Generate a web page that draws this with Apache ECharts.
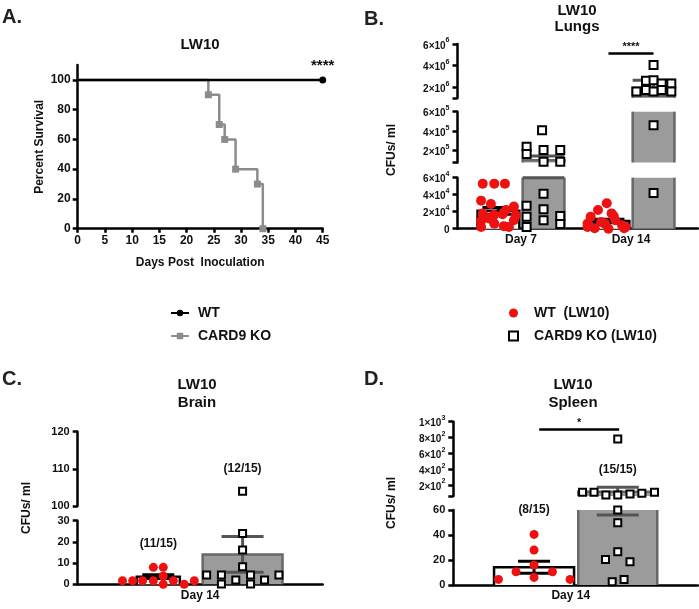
<!DOCTYPE html>
<html>
<head>
<meta charset="utf-8">
<title>LW10</title>
<script src="https://cdn.jsdelivr.net/npm/echarts@6/dist/echarts.min.js"></script>
<style>
  html, body { margin: 0; padding: 0; background: #fff; }
  #chart { width: 699px; height: 609px; }
</style>
</head>
<body>
<div id="chart"></div>
<script>
// ---- A: survival ----
var survDayKO = [0, 24, 26, 27, 29, 33, 34];
var survKO = [100, 90, 70, 60, 40, 30, 0];
var survDayWT = [0, 45];
var survWT = [100, 100];
var pctTicks = [0, 20, 40, 60, 80, 100];

// ---- B: lungs ----
var lungDays = ['Day 7', 'Day 14'];
var lungWtMean = [2.1e4, 0.9e4];
var lungWtSem = [0.4e4, 0.2e4];
var lungKoMean = [1.03e5, 1.95e6];
var lungKoSem = [0.43e5, 0.7e6];
var lungWt7 = [5.3e4, 5.3e4, 5.3e4, 3.3e4, 2.9e4, 2.6e4, 1.8e4, 1.6e4, 1.7e4, 1.6e4, 0.9e4, 0.6e4, 1.0e4, 0.2e4, 0.3e4, 0.2e4, 1.2e4, 2.2e4];
var lungKo7 = [4.1e5, 2.4e5, 1.66e5, 2.07e5, 2.07e5, 0.87e5, 0.87e5, 4.1e4, 2.7e4, 2.3e4, 1.4e4, 1.0e4, 1.5e4, 0.2e4, 0.55e4];
var lungWt14 = [3.0e4, 2.2e4, 1.8e4, 1.4e4, 1.0e4, 0.6e4, 0.8e4, 0.4e4, 0.05e4, 0, 0.05e4, 1.5e4, 0.2e4, 0.2e4, 0.6e4];
var lungKo14 = [4.06e6, 2.6e6, 2.65e6, 2.35e6, 2.35e6, 1.6e6, 1.75e6, 1.6e6, 1.75e6, 1.6e6, 4.6e5, 4.2e4];

// ---- C: brain ----
var brainDay = ['Day 14'];
var brainWtMean = [3.6];
var brainWtSem = [0.9];
var brainKoMean = [14.1];
var brainKoSem = [8.4];
var brainWt = [1.7, 1.7, 1.7, 1.7, 8.0, 8.0, 3.9, 0, 1.7, 0, 1.7];
var brainKo = [4.4, 4.4, 0.1, 2.0, 8.3, 4.4, 0.1, 2.0, 4.4, 16.2, 24.0, 104];
var brainCounts = ['(11/15)', '(12/15)'];

// ---- D: spleen ----
var spleenDay = ['Day 14'];
var spleenWtMean = [14.2];
var spleenWtSem = [4.8];
var spleenKoMean = [113];
var spleenKoSem = [57];
var spleenWt = [40.5, 28, 16, 10.6, 10.6, 6.1, 4.5, 4.5];
var spleenKo = [107, 107, 73, 73, 85, 94, 107, 60, 49.8, 26.6, 20.5, 18.6, 2.6, 4.5, 781];
var spleenCounts = ['(8/15)', '(15/15)'];

// jitter of the dots inside each group (fraction of half bar width)
var jitLungWt7 = [-0.75, -0.2, 0.31, -0.83, -0.36, 0.74, -0.75, -0.21, 0.2, 0.83, -0.83, -0.2, 0.74, -0.83, 0.26, 0.5, -0.45, 0.36];
var jitLungKo7 = [-0.07, -0.81, -0.81, 0, 0.8, 0, 0.8, 0, -0.81, 0, -0.81, 0, 0.8, -0.81, 0.8];
var jitLungWt14 = [-0.08, -0.5, 0.15, -0.85, 0.33, -1.0, -0.35, 0.65, -0.66, 0, 0.75, 0.25, 0.83, -1.0, -0.17];
var jitLungKo14 = [0, -0.36, 0, 0.39, 0.85, -0.82, -0.36, 0, 0.39, 0.85, 0, 0];
var jitBrainWt = [-1.66, -1.19, -0.73, -0.23, -0.23, 0.23, 0.23, 0.23, 0.7, 1.2, 1.67];
var jitBrainKo = [-0.9, -0.53, -0.53, -0.17, 0, 0.2, 0.2, 0.55, 0.91, 0, 0, 0];
var jitSpleenWt = [0, 0, 0, -0.45, 0.46, 0, -0.89, 0.9];
var jitSpleenKo = [-0.89, -0.6, -0.3, 0, 0.31, 0.61, 0.93, 0, 0, 0, -0.31, 0.31, -0.14, 0.16, 0];

var FONT = '"Liberation Sans", Arial, sans-serif';
var RED = '#ee1111';
var GREY = '#9b9b9b';
var DGREY = '#686868';
var LINEGREY = '#8c8c8c';
var WT_NAME = 'WT  (LW10)';
var KO_NAME = 'CARD9 KO (LW10)';

function sci(v) {
    if (v === 0) return '{b|0}';
    var e = Math.floor(Math.log10(v) + 1e-9);
    var m = Math.round(v / Math.pow(10, e));
    return '{b|' + m + '×10}{s|' + e + '}';
}
function plain(v) { return '{p|' + v + '}'; }
var labelRich = {
    b: { fontSize: 10, fontWeight: 'bold', fontFamily: FONT, color: '#111', lineHeight: 14, verticalAlign: 'bottom' },
    s: { fontSize: 7, fontWeight: 'bold', fontFamily: FONT, color: '#111', lineHeight: 14, verticalAlign: 'top', padding: [0, 0, 6, 0] },
    p: { fontSize: 11, fontWeight: 'bold', fontFamily: FONT, color: '#111' }
};

var grids = [], xAxes = [], yAxes = [], series = [];

function barRenderer(lo, hi) {
    return function (params, api) {
        var x = api.value(0), mean = api.value(1), sem = api.value(2), half = api.value(3), ko = api.value(4) === 1;
        var edge = ko ? DGREY : '#000';
        var kids = [];
        var l = api.coord([x - half, lo]), r = api.coord([x + half, lo]);
        if (mean > lo) {
            var t = api.coord([x, Math.min(mean, hi)])[1];
            kids.push({ type: 'rect', shape: { x: l[0], y: t, width: r[0] - l[0], height: l[1] - t }, style: { fill: ko ? GREY : '#fff' } });
            if (mean <= hi) {
                kids.push({ type: 'polyline', shape: { points: [[l[0], l[1]], [l[0], t], [r[0], t], [r[0], l[1]]] }, style: { stroke: edge, lineWidth: 2.5, fill: null } });
            } else {
                kids.push({ type: 'line', shape: { x1: l[0], y1: l[1], x2: l[0], y2: t }, style: { stroke: edge, lineWidth: 2.5 } });
                kids.push({ type: 'line', shape: { x1: r[0], y1: l[1], x2: r[0], y2: t }, style: { stroke: edge, lineWidth: 2.5 } });
            }
        }
        // error bar
        var cx = api.coord([x, lo])[0];
        var capHalf = Math.min((r[0] - l[0]) / 2, ko ? 21 : 16);
        var errColor = ko ? '#555' : '#000';
        var lowV = mean - sem, highV = mean + sem;
        var y0 = Math.max(lowV, lo), y1 = Math.min(highV, hi);
        if (y1 > y0) {
            kids.push({ type: 'line', shape: { x1: cx, y1: api.coord([x, y0])[1], x2: cx, y2: api.coord([x, y1])[1] }, style: { stroke: errColor, lineWidth: 3 } });
        }
        [lowV, highV].forEach(function (v) {
            if (v >= lo && v <= hi) {
                var yy = api.coord([x, v])[1];
                kids.push({ type: 'line', shape: { x1: cx - capHalf, y1: yy, x2: cx + capHalf, y2: yy }, style: { stroke: errColor, lineWidth: 3 } });
            }
        });
        return { type: 'group', children: kids };
    };
}

function addPanel(p) {
    p.segs.forEach(function (s, si) {
        var gi = grids.length;
        var last = si === p.segs.length - 1;
        grids.push({ left: p.left, width: p.width, top: s.top, height: s.height });
        xAxes.push({
            type: 'value', gridIndex: gi, min: p.xMin, max: p.xMax, show: last,
            axisLine: { show: true, onZero: false, lineStyle: { color: '#000', width: 2.5 } },
            axisTick: { show: false }, splitLine: { show: false },
            axisLabel: {
                customValues: p.cats.map(function (c, i) { return i + 1; }),
                formatter: function (v) { return p.cats[Math.round(v) - 1] || ''; },
                fontSize: 12, fontWeight: 'bold', fontFamily: FONT, color: '#111', margin: 5
            }
        });
        yAxes.push({
            type: 'value', gridIndex: gi, min: s.min, max: s.max,
            axisLine: { show: true, lineStyle: { color: '#000', width: 2.5 } },
            axisTick: { show: true, customValues: s.ticks, length: 5, lineStyle: { color: '#000', width: 2.5 } },
            axisLabel: { customValues: s.labels, formatter: s.sci ? sci : plain, rich: labelRich, margin: 8 },
            splitLine: { show: false }
        });
        var inSeg = function (v) { return v <= s.max && (last ? v >= s.min : v > s.min); };
        var barData = p.groups.map(function (g) {
            return [g.x, g.mean, g.sem, g.half, g.ko ? 1 : 0];
        });
        series.push({
            type: 'custom', name: 'bars' + gi, xAxisIndex: gi, yAxisIndex: gi, silent: true, z: 2,
            renderItem: barRenderer(s.min, s.max), data: barData
        });
        [false, true].forEach(function (ko) {
            var pts = [];
            p.groups.forEach(function (g) {
                if (g.ko !== ko) return;
                g.pts.forEach(function (v, i) {
                    if (inSeg(v)) pts.push([g.x + g.jit[i] * g.half, v]);
                });
            });
            var ser = {
                type: 'scatter', name: ko ? KO_NAME : WT_NAME, xAxisIndex: gi, yAxisIndex: gi, z: 5, clip: false,
                data: pts, symbol: ko ? 'rect' : 'circle', symbolSize: ko ? p.sqSize : p.dotSize,
                itemStyle: ko ? { color: '#fff', borderColor: '#000', borderWidth: 2, opacity: 1 } : { color: RED, opacity: 1 },
                emphasis: { disabled: true }
            };
            var marks = (p.marks || []).filter(function (m) { return m.seg === si && m.ko === ko; });
            if (marks.length) {
                ser.markPoint = {
                    symbol: 'circle', symbolSize: 0, silent: true,
                    data: marks.map(function (m) {
                        return { coord: [m.x, m.v], label: { show: true, position: 'inside', formatter: m.text, fontSize: 12, fontWeight: 'bold', fontFamily: FONT, color: '#111' } };
                    })
                };
            }
            var sigs = (p.sigs || []).filter(function (m) { return m.seg === si && m.ko === ko; });
            if (sigs.length) {
                ser.markLine = {
                    symbol: 'none', silent: true, animation: false,
                    lineStyle: { color: '#000', width: 2.5, type: 'solid' },
                    label: { show: true, position: 'insideMiddleTop', distance: 1, fontSize: 11, fontWeight: 'bold', fontFamily: FONT, color: '#111' },
                    data: sigs.map(function (m) {
                        return [{ coord: [m.x1, m.v], label: { formatter: m.text } }, { coord: [m.x2, m.v] }];
                    })
                };
            }
            series.push(ser);
        });
    });
}

// ---- panel A (grid 0) ----
grids.push({ left: 77.7, width: 245, top: 65, height: 163.7 });
xAxes.push({
    type: 'value', gridIndex: 0, min: 0, max: 45, interval: 5,
    name: 'Days Post  Inoculation', nameLocation: 'middle', nameGap: 28,
    nameTextStyle: { fontSize: 12, fontWeight: 'bold', fontFamily: FONT, color: '#111' },
    axisLine: { onZero: false, lineStyle: { color: '#000', width: 2.5 } },
    axisTick: { length: 4, lineStyle: { color: '#000', width: 2.5 } },
    axisLabel: { fontSize: 12, fontWeight: 'bold', fontFamily: FONT, color: '#111', margin: 6 },
    splitLine: { show: false }
});
yAxes.push({
    type: 'value', gridIndex: 0, min: 0, max: 110,
    name: 'Percent Survival', nameLocation: 'middle', nameGap: 32,
    nameTextStyle: { fontSize: 12, fontWeight: 'bold', fontFamily: FONT, color: '#111' },
    axisLine: { show: true, lineStyle: { color: '#000', width: 2.5 } },
    axisTick: { show: true, customValues: pctTicks, length: 5, lineStyle: { color: '#000', width: 2.5 } },
    axisLabel: { customValues: pctTicks, fontSize: 12, fontWeight: 'bold', fontFamily: FONT, color: '#111', margin: 7 },
    splitLine: { show: false }
});
series.push({
    type: 'line', name: 'CARD9 KO', xAxisIndex: 0, yAxisIndex: 0, step: 'end', z: 3,
    symbol: 'rect', symbolSize: 7, lineStyle: { color: LINEGREY, width: 2.5 }, itemStyle: { color: LINEGREY },
    data: survDayKO.map(function (d, i) { return i === 0 ? { value: [d, survKO[i]], symbol: 'none' } : [d, survKO[i]]; })
});
series.push({
    type: 'line', name: 'WT', xAxisIndex: 0, yAxisIndex: 0, z: 4,
    symbol: 'circle', symbolSize: 7, lineStyle: { color: '#000', width: 2.5 }, itemStyle: { color: '#000' },
    data: survDayWT.map(function (d, i) {
        if (i === 0) return { value: [d, survWT[i]], symbol: 'none' };
        return { value: [d, survWT[i]], label: { show: true, position: 'top', distance: 3, formatter: '****', fontSize: 15, fontWeight: 'bold', fontFamily: FONT, color: '#111' } };
    })
});

// ---- panel B ----
var bOff = { wt: -0.205, ko: 0.205 }, bHalf = 0.19;
addPanel({
    left: 457.5, width: 240.5, xMin: 0.423, xMax: 2.609, cats: lungDays, dotSize: 10, sqSize: 8,
    segs: [
        { top: 44, height: 54, min: 1e6, max: 6e6, sci: true, ticks: [1e6, 2e6, 4e6, 6e6], labels: [2e6, 4e6, 6e6] },
        { top: 111.7, height: 50.7, min: 8e4, max: 6e5, sci: true, ticks: [8e4, 2e5, 4e5, 6e5], labels: [2e5, 4e5, 6e5] },
        { top: 177.7, height: 51, min: 0, max: 6e4, sci: true, ticks: [0, 2e4, 4e4, 6e4], labels: [0, 2e4, 4e4, 6e4] }
    ],
    groups: [
        { x: 1 + bOff.wt, half: bHalf, ko: false, mean: lungWtMean[0], sem: lungWtSem[0], pts: lungWt7, jit: jitLungWt7 },
        { x: 1 + bOff.ko, half: bHalf, ko: true, mean: lungKoMean[0], sem: lungKoSem[0], pts: lungKo7, jit: jitLungKo7 },
        { x: 2 + bOff.wt, half: bHalf, ko: false, mean: lungWtMean[1], sem: lungWtSem[1], pts: lungWt14, jit: jitLungWt14 },
        { x: 2 + bOff.ko, half: bHalf, ko: true, mean: lungKoMean[1], sem: lungKoSem[1], pts: lungKo14, jit: jitLungKo14 }
    ],
    sigs: [{ seg: 0, ko: true, x1: 2 + bOff.wt, x2: 2 + bOff.ko, v: 5.15e6, text: '****' }]
});

// ---- panel C ----
var cWt = 0.829, cKo = 1.173;
addPanel({
    left: 77.7, width: 245, xMin: 0.5, xMax: 1.5, cats: brainDay, dotSize: 9, sqSize: 7,
    segs: [
        { top: 431.7, height: 74.3, min: 100, max: 120, ticks: [100, 110, 120], labels: [100, 110, 120] },
        { top: 520.7, height: 63.6, min: 0, max: 30, ticks: [0, 10, 20, 30], labels: [0, 10, 20, 30] }
    ],
    groups: [
        { x: cWt, half: 0.088, ko: false, mean: brainWtMean[0], sem: brainWtSem[0], pts: brainWt, jit: jitBrainWt },
        { x: cKo, half: 0.163, ko: true, mean: brainKoMean[0], sem: brainKoSem[0], pts: brainKo, jit: jitBrainKo }
    ],
    marks: [
        { seg: 1, ko: false, x: cWt, v: 19.3, text: brainCounts[0] },
        { seg: 0, ko: true, x: cKo, v: 110.1, text: brainCounts[1] }
    ]
});

// ---- panel D ----
var dWt = 0.85, dKo = 1.192;
addPanel({
    left: 453.3, width: 244.7, xMin: 0.52, xMax: 1.52, cats: spleenDay, dotSize: 9, sqSize: 7,
    segs: [
        { top: 421.7, height: 74.3, min: 60, max: 1000, sci: true, ticks: [60, 200, 400, 600, 800, 1000], labels: [200, 400, 600, 800, 1000] },
        { top: 510, height: 75, min: 0, max: 60, ticks: [0, 20, 40, 60], labels: [0, 20, 40, 60] }
    ],
    groups: [
        { x: dWt, half: 0.1635, ko: false, mean: spleenWtMean[0], sem: spleenWtSem[0], pts: spleenWt, jit: jitSpleenWt },
        { x: dKo, half: 0.1615, ko: true, mean: spleenKoMean[0], sem: spleenKoSem[0], pts: spleenKo, jit: jitSpleenKo }
    ],
    marks: [
        { seg: 1, ko: false, x: dWt, v: 60, text: spleenCounts[0] },
        { seg: 0, ko: true, x: dKo, v: 398, text: spleenCounts[1] }
    ],
    sigs: [{ seg: 0, ko: true, x1: dWt + 0.021, x2: dKo + 0.006, v: 908, text: '*' }]
});

var titleStyle = { fontSize: 15, fontWeight: 'bold', fontFamily: FONT, color: '#111' };
var letterStyle = { fontSize: 20, fontWeight: 'bold', fontFamily: FONT, color: '#222' };
function yName(x, y) {
    return { type: 'text', x: x, y: y, rotation: Math.PI / 2, silent: true,
        style: { text: 'CFUs/ ml', fontSize: 12, fontWeight: 'bold', fontFamily: FONT, fill: '#111', align: 'center', verticalAlign: 'middle' } };
}

var chart = echarts.init(document.getElementById('chart'));
chart.setOption({
    animation: false,
    backgroundColor: '#fff',
    title: [
        { text: 'A.', left: 2, top: 7, padding: 0, textStyle: letterStyle },
        { text: 'LW10', left: 200, top: 37, padding: 0, textAlign: 'center', textStyle: titleStyle },
        { text: 'B.', left: 364, top: 9, padding: 0, textStyle: letterStyle },
        { text: 'LW10\nLungs', left: 577, top: 3, padding: 0, textAlign: 'center', textStyle: Object.assign({ lineHeight: 16 }, titleStyle) },
        { text: 'C.', left: 2, top: 369, padding: 0, textStyle: letterStyle },
        { text: 'LW10\nBrain', left: 197, top: 376, padding: 0, textAlign: 'center', textStyle: Object.assign({ lineHeight: 18 }, titleStyle) },
        { text: 'D.', left: 364, top: 369, padding: 0, textStyle: letterStyle },
        { text: 'LW10\nSpleen', left: 573, top: 376, padding: 0, textAlign: 'center', textStyle: Object.assign({ lineHeight: 18 }, titleStyle) }
    ],
    legend: [
        {
            data: ['WT', 'CARD9 KO'], orient: 'vertical', left: 170, top: 306, padding: 0,
            itemWidth: 18, itemHeight: 8, itemGap: 9, selectedMode: false,
            textStyle: { fontSize: 14, fontWeight: 'bold', fontFamily: FONT, color: '#111', lineHeight: 14, padding: [0, 0, 0, 4] }
        },
        {
            data: [WT_NAME, KO_NAME], orient: 'vertical', left: 508, top: 306, padding: 0,
            itemWidth: 9, itemHeight: 9, itemGap: 9, selectedMode: false,
            textStyle: { fontSize: 14, fontWeight: 'bold', fontFamily: FONT, color: '#111', lineHeight: 14, padding: [0, 0, 0, 11] }
        }
    ],
    graphic: [yName(392, 150), yName(27, 508), yName(391.7, 503)],
    grid: grids,
    xAxis: xAxes,
    yAxis: yAxes,
    series: series
});
</script>
</body>
</html>
